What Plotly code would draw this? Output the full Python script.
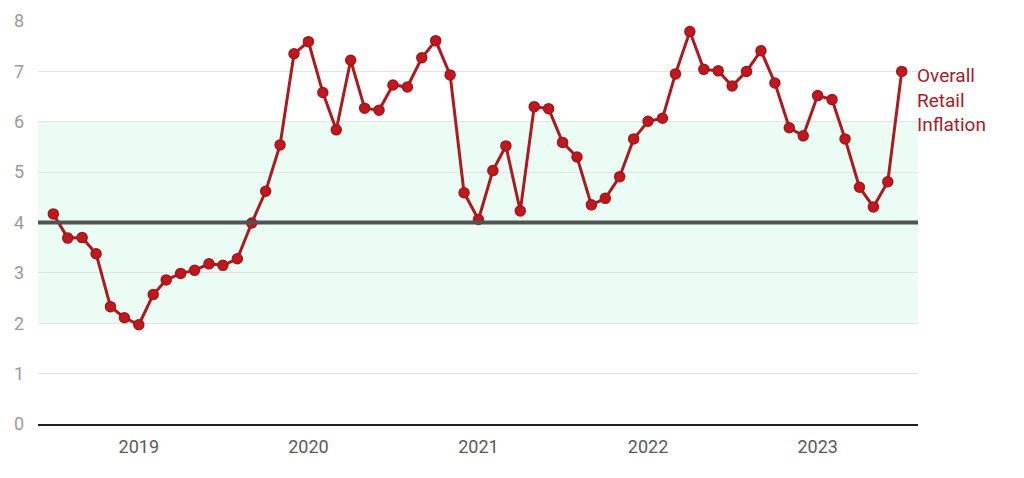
import plotly.graph_objects as go
import pandas as pd

# monthly retail (CPI) inflation, Jul 2018 .. Jul 2023
months = pd.date_range("2018-07-01", "2023-07-01", freq="MS")
inflation = [
    4.17, 3.69, 3.70, 3.38, 2.33, 2.11,                          # 2018 Jul-Dec
    1.97, 2.57, 2.86, 2.99, 3.05, 3.18, 3.15, 3.28, 3.99, 4.62, 5.54, 7.35,  # 2019
    7.59, 6.58, 5.84, 7.22, 6.27, 6.23, 6.73, 6.69, 7.27, 7.61, 6.93, 4.59,  # 2020
    4.06, 5.03, 5.52, 4.23, 6.30, 6.26, 5.59, 5.30, 4.35, 4.48, 4.91, 5.66,  # 2021
    6.01, 6.07, 6.95, 7.79, 7.04, 7.01, 6.71, 7.00, 7.41, 6.77, 5.88, 5.72,  # 2022
    6.52, 6.44, 5.66, 4.70, 4.31, 4.81, 7.00,                    # 2023 Jan-Jul
]
band_low, band_high = 2, 6
target = 4
year_ticks = ["2019-01-01", "2020-01-01", "2021-01-01", "2022-01-01", "2023-01-01"]
year_labels = ["2019", "2020", "2021", "2022", "2023"]
label_text = "Overall<br>Retail<br>Inflation"

red = "#ab1a1f"

fig = go.Figure()

# tolerance band
fig.add_hrect(y0=band_low, y1=band_high, fillcolor="#ebfcf5", line_width=0, layer="below")

# target line
fig.add_hline(y=target, line=dict(color="#4f5452", width=4), layer="above")

fig.add_trace(go.Scatter(
    x=months, y=inflation, mode="lines+markers",
    line=dict(color=red, width=3),
    marker=dict(size=10, color="#c5161d", line=dict(color="#9b1a1e", width=1.5)),
    showlegend=False, hoverinfo="x+y", cliponaxis=False,
))

fig.add_annotation(
    x=months[-1], y=inflation[-1], text=label_text, showarrow=False,
    xanchor="left", yanchor="top", xshift=13, yshift=9, align="left",
    font=dict(family="Roboto", size=19, color="#a3202a"),
)

fig.update_xaxes(
    range=["2018-05-29", "2023-08-05"],
    tickvals=year_ticks, ticktext=year_labels,
    showgrid=False, zeroline=False, automargin=False,
    showline=True, linecolor="#222222", linewidth=2,
    ticks="", tickfont=dict(family="Roboto", size=18, color="#5a5a5a"),
    ticklabelstandoff=5,
)
fig.update_yaxes(
    range=[0, 8], dtick=1, automargin=False,
    showgrid=True, gridcolor="#e3e3e3", gridwidth=1,
    zeroline=False, showline=False, ticks="",
    tickfont=dict(family="Roboto", size=18, color="#9a9a9a"),
    ticklabelstandoff=13,
)

# page body adds 8px, margins account for it
fig.update_layout(
    width=1024, height=478,
    margin=dict(l=30, r=114, t=13, b=62),
    plot_bgcolor="white", paper_bgcolor="white",
)

fig.write_html("out.html")
